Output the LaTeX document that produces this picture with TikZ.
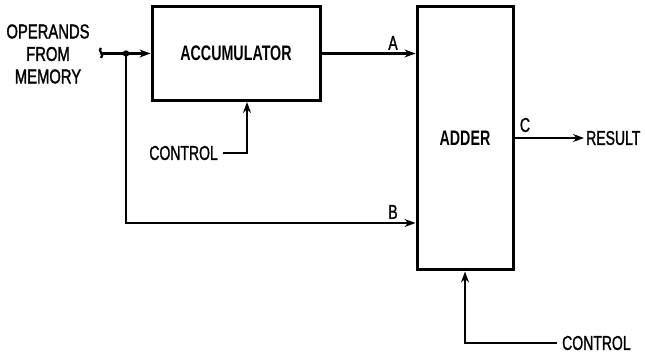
\documentclass[tikz,border=0pt]{standalone}
\usepackage{fontspec}
\setmainfont{Liberation Sans}[FakeStretch=0.7,FakeBold=1.2]
\newfontfamily\condb{Liberation Sans Bold}[FakeStretch=0.68]
\newfontfamily\condm{Liberation Sans}[FakeStretch=0.74,FakeBold=1.5]
\usetikzlibrary{arrows.meta}
\begin{document}
\begin{tikzpicture}[x=1pt,y=-1pt,
  blk/.style={draw,line width=3pt,inner sep=0pt,font=\condb\fontsize{21}{22}\selectfont},
  lbl/.style={inner sep=0pt,font=\fontsize{20}{20}\selectfont},
  side/.style={inner sep=0pt,align=center,font=\condm\fontsize{20}{22.5}\selectfont},
  wire/.style={line width=2.2pt},
  arr/.style={wire,-{Stealth[length=11pt,width=8pt]}},
  every node/.style={text=black}]
\useasboundingbox (0,0) rectangle (645,355);
\node[blk,minimum width=168pt,minimum height=94pt] (acc) at (236,53.5) {ACCUMULATOR};
\node[blk,minimum width=96pt,minimum height=263pt] (add) at (465,138.5) {ADDER};
\node[side] (ops) at (48,54) {OPERANDS\\FROM\\MEMORY};
\coordinate (in) at (101,53.5);
\coordinate (j) at (126,53.5);
\coordinate (bc) at (126,223);
\fill (j) circle (3.2pt);
\draw[wire] (101,48) .. controls (97,50) and (105,55) .. (101,58);
\draw[arr] (in) -- (acc.west);
\draw[arr] (j) -- (bc) -- (add.west |- bc);
\draw[arr] (acc.east) -- (add.west |- acc.east);
\node[lbl] (la) at (393,43) {A};
\node[lbl] (lb) at (393,212) {B};
\node[lbl] (lc) at (525,125) {C};
\coordinate (cout) at (584,138);
\draw[arr] (add.east |- cout) -- (cout);
\node[lbl,anchor=west] (res) at (586,138) {RESULT};
\node[lbl,anchor=east] (c1) at (218,153) {CONTROL};
\coordinate (c1k) at (247,153);
\draw[arr] (c1.east) ++(5,0) -- (c1k) -- (c1k |- acc.south);
\node[lbl,anchor=west] (c2) at (562,343) {CONTROL};
\coordinate (c2k) at (465,343);
\draw[arr] (c2.west) ++(-5,0) -- (c2k) -- (add.south);
\end{tikzpicture}
\end{document}
